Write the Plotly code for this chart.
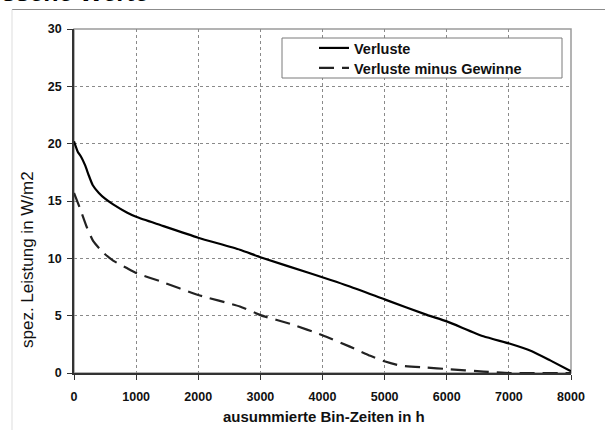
import plotly.graph_objects as go

# ---- data ----
verluste_x = [0, 60, 120, 180, 240, 300, 400, 500, 630, 850, 1010, 1390, 2000, 2670, 3000,
              3800, 4440, 5010, 5680, 6000, 6590, 7020, 7370, 7665, 8000]
verluste_y = [20.2, 19.3, 18.8, 18.1, 17.2, 16.4, 15.7, 15.2, 14.7, 14.0, 13.6, 12.9, 11.8, 10.75, 10.1,
              8.7, 7.55, 6.4, 5.07, 4.5, 3.2, 2.55, 1.9, 1.1, 0.15]

vmg_x = [0, 100, 200, 310, 470, 630, 850, 1010, 1390, 2000, 2670, 3000, 3500, 4000,
         4440, 4770, 5010, 5250, 5680, 6000, 6590, 7020, 8000]
vmg_y = [15.7, 14.3, 12.8, 11.5, 10.5, 9.8, 9.15, 8.7, 8.0, 6.8, 5.8, 5.05, 4.25, 3.3,
         2.3, 1.5, 1.0, 0.65, 0.47, 0.35, 0.12, 0.0, 0.0]

series_names = ["Verluste", "Verluste minus Gewinne"]
x_ticks = [0, 1000, 2000, 3000, 4000, 5000, 6000, 7000, 8000]
y_ticks = [0, 5, 10, 15, 20, 25, 30]
x_title = "ausummierte Bin-Zeiten in h"
y_title = "spez. Leistung in W/m2"
top_title = "Gemessene Werte"

# ---- layout geometry (pixels) ----
W, H = 605, 430
L, R, T, B = 74, 571, 29, 373
pw, ph = R - L, B - T


def px(x):
    return (x - L) / pw


def py(y):
    return (B - y) / ph


FONT = "Liberation Sans, Arial, sans-serif"

fig = go.Figure()
fig.add_trace(go.Scatter(
    x=verluste_x, y=verluste_y, name=series_names[0], mode="lines", legend="legend",
    line=dict(color="#000000", width=2.2, shape="spline", smoothing=0.5),
))
fig.add_trace(go.Scatter(
    x=vmg_x, y=vmg_y, name=series_names[1], mode="lines", legend="legend2",
    line=dict(color="#222222", width=2.2, dash="15px,8px", shape="spline", smoothing=0.5),
))

axis_common = dict(
    showgrid=True, gridcolor="#8a8a8a", griddash="dot", gridwidth=1,
    showline=True, linecolor="#333333", linewidth=1.5,
    ticks="outside", ticklen=5, tickcolor="#333333", tickwidth=1,
    tickfont=dict(family=FONT, size=12.5, color="#111111", weight="bold"),
    zeroline=False, fixedrange=True,
)

fig.update_xaxes(range=[0, 8000], tickvals=x_ticks, ticklabelstandoff=6, **axis_common)
fig.update_yaxes(range=[0, 30], tickvals=y_ticks, ticklabelstandoff=3, **axis_common)

shapes = [
    # plot area border (top/right gray)
    dict(type="rect", xref="paper", yref="paper", x0=0, x1=1, y0=0, y1=1,
         line=dict(color="#9a9a9a", width=1.5), layer="between"),
    # outer chart frame
    dict(type="line", xref="paper", yref="paper", x0=px(12), x1=px(620), y0=py(9.5), y1=py(9.5),
         line=dict(color="#8c8c8c", width=1.2)),
    dict(type="line", xref="paper", yref="paper", x0=px(12), x1=px(12), y0=py(9.5), y1=py(440),
         line=dict(color="#dddddd", width=1)),
    # legend box
    dict(type="rect", xref="paper", yref="paper", x0=px(282), x1=px(562), y0=py(78), y1=py(38),
         line=dict(color="#7a7a7a", width=1), fillcolor="white", layer="above"),
]

annotations = [
    dict(text=y_title, xref="paper", yref="paper", x=px(27), y=py(260), showarrow=False,
         textangle=-90, font=dict(family=FONT, size=17, color="#111111"),
         xanchor="center", yanchor="middle"),
    dict(text=x_title, xref="paper", yref="paper", x=px(324), y=py(416), showarrow=False,
         font=dict(family=FONT, size=15, color="#111111", weight="bold"),
         xanchor="center", yanchor="middle"),
    dict(text=top_title, xref="paper", yref="paper", x=px(150), y=py(8), showarrow=False,
         font=dict(family=FONT, size=25, color="#000000", weight="bold"),
         xanchor="right", yanchor="bottom"),
]

legend_style = dict(
    xanchor="left", yanchor="middle",
    bgcolor="rgba(0,0,0,0)", borderwidth=0,
    font=dict(family=FONT, size=14.5, color="#111111", weight="bold"),
    tracegroupgap=0, itemwidth=30,
)

fig.update_layout(
    width=W, height=H,
    margin=dict(l=L, r=W - R, t=T, b=H - B, pad=0),
    paper_bgcolor="white", plot_bgcolor="white",
    font=dict(family=FONT, size=12, color="#111111"),
    showlegend=True,
    legend=dict(x=px(314), y=py(48), **legend_style),
    legend2=dict(x=px(314), y=py(68), **legend_style),
    shapes=shapes,
    annotations=annotations,
)

fig.write_html("out.html")
